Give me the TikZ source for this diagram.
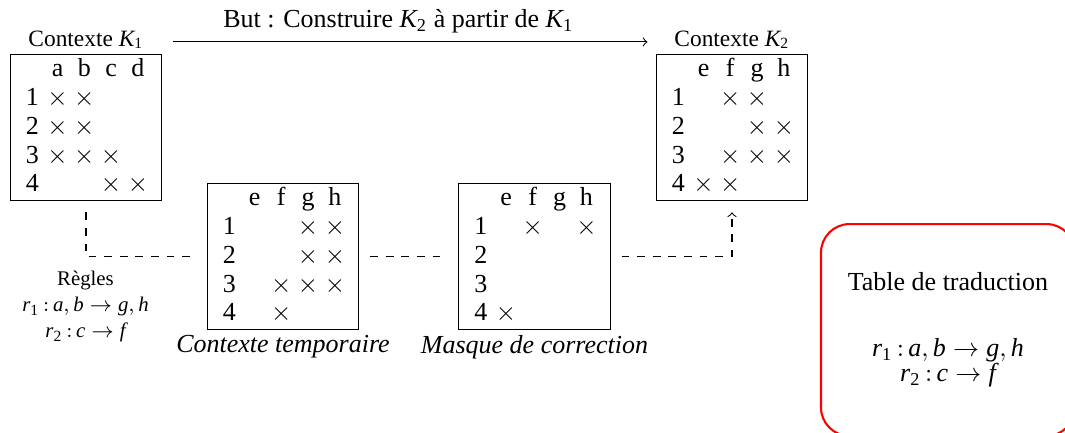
\documentclass[tikz,border=0pt]{standalone}
\usepackage{amsmath}
\usepackage{fontspec}
\setmainfont{Liberation Serif}
\usetikzlibrary{arrows,positioning,matrix}

\newcommand{\xx}{$\times$}
\newcommand{\mi}[1]{\textit{#1}}
\newcommand{\ix}[1]{_{\textrm{#1}}}
\newcommand{\deuxpts}{\,{:}\,}

\begin{document}
\begin{tikzpicture}[x=0.3846pt,y=-0.3846pt,
  every matrix/.style={ampersand replacement=\&,matrix of nodes,draw,
    inner xsep=4pt,inner ysep=0.35pt,
    nodes={inner sep=0pt,minimum width=10.3pt,minimum height=11.15pt,
      text height=7pt,text depth=2pt},
    column 1/.style={nodes={minimum width=9pt}}},
  title/.style={anchor=base,inner sep=0pt,font=\small},
  caption/.style={font=\itshape,below=1.6pt of #1,inner sep=0pt},
  link/.style={dashed,shorten <=4.2pt,shorten >=4.2pt},
  goal/.style={->,shorten <=11pt,shorten >=10.2pt},
  rules/.style={font=\footnotesize,align=center,anchor=north,inner sep=0pt},
  trad/.style={draw=red,thick,rounded corners=11pt,align=center,
    minimum width=97.7pt,minimum height=81.5pt}]

  \useasboundingbox (0,0) rectangle (1065,432);

  % les quatre tableaux
  \matrix (kun) at (86,127.5) {
      \& a \& b \& c \& d \\
    1 \& \xx \& \xx \& \& \\
    2 \& \xx \& \xx \& \& \\
    3 \& \xx \& \xx \& \xx \& \\
    4 \& \& \& \xx \& \xx \\
  };
  \matrix (tmp) at (283,256.5) {
      \& e \& f \& g \& h \\
    1 \& \& \& \xx \& \xx \\
    2 \& \& \& \xx \& \xx \\
    3 \& \& \xx \& \xx \& \xx \\
    4 \& \& \xx \& \& \\
  };
  \matrix (msq) at (534.5,256.5) {
      \& e \& f \& g \& h \\
    1 \& \& \xx \& \& \xx \\
    2 \& \& \& \& \\
    3 \& \& \& \& \\
    4 \& \xx \& \& \& \\
  };
  \matrix (kdeux) at (732,127.5) {
      \& e \& f \& g \& h \\
    1 \& \& \xx \& \xx \& \\
    2 \& \& \& \xx \& \xx \\
    3 \& \& \xx \& \xx \& \xx \\
    4 \& \xx \& \xx \& \& \\
  };

  \node[title] (tkun) at ([yshift=2.8pt]kun.north) {Contexte $\mi{K}\ix{1}$};
  \node[title] (tdeux) at ([yshift=2.8pt]kdeux.north) {Contexte $\mi{K}\ix{2}$};
  \node[caption=tmp] (ctmp) {Contexte temporaire};
  \node[caption=msq] (cmsq) {Masque de correction};

  \draw[goal] ([yshift=-0.8pt]tkun.east) -- node[above,pos=.48] (but) {But : Construire $\mi{K}\ix{2}$ à partir de $\mi{K}\ix{1}$} ([yshift=-0.8pt]tdeux.west);

  % regles et liens
  \draw[link] (kun.south) |- (tmp.west);
  \draw[link] (tmp.east) -- (msq.west);
  \draw[link,->] (msq.east) -| (kdeux.south);
  \node[rules] (regles) at (85.5,271) {Règles\\[0.5pt] $\mi{r}\ix{1}\deuxpts\mi{a},\mi{b}\to\mi{g},\mi{h}$\\[0.5pt] $\mi{r}\ix{2}\deuxpts\mi{c}\to\mi{f}$};

  \node[trad] (table) at (948,330) {Table de traduction\\[13.4pt] $\mi{r}\ix{1}\deuxpts\mi{a},\mi{b}\to\mi{g},\mi{h}$\\[-2.4pt] $\mi{r}\ix{2}\deuxpts\mi{c}\to\mi{f}$};
\end{tikzpicture}
\end{document}
